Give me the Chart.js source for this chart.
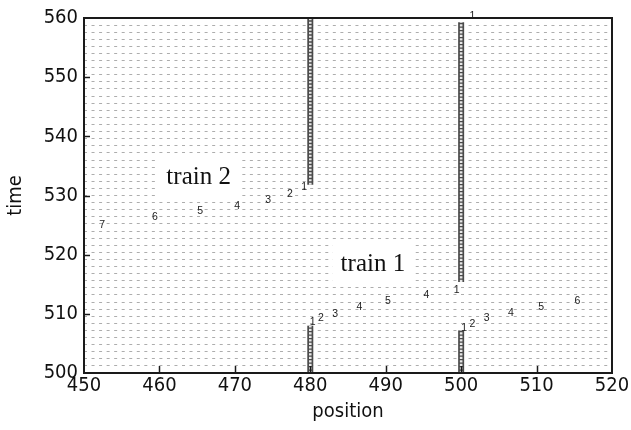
<!DOCTYPE html>
<html>
<head>
<meta charset="utf-8">
<script src="https://cdn.jsdelivr.net/npm/chart.js"></script>
<style>
  html, body { margin: 0; padding: 0; background: #fff; }
  #wrap { width: 631px; height: 430px; }
</style>
</head>
<body>
<div id="wrap"><canvas id="trainChart" width="631" height="430"></canvas></div>
<script>
// axis ticks
const xTicks = [450, 460, 470, 480, 490, 500, 510, 520];
const yTicks = [500, 510, 520, 530, 540, 550, 560];

// trains standing still (position, time from, time to)
const stopX = [480, 480, 500, 500];
const stopFrom = [531.8, 500, 515.4, 500];
const stopTo = [560, 508, 559.3, 507.2];

// numbered marks along the running trains
const train2X = [452.4, 459.4, 465.4, 470.3, 474.4, 477.3, 479.2];
const train2T = [525.0, 526.3, 527.3, 528.2, 529.2, 530.2, 531.5];
const train2Lbl = ['7', '6', '5', '4', '3', '2', '1'];

const train1aX = [480.3, 481.4, 483.3, 486.5, 490.3, 495.4, 499.4];
const train1aT = [508.6, 509.3, 510.0, 511.1, 512.1, 513.2, 514.0];
const train1aLbl = ['1', '2', '3', '4', '5', '4', '1'];

const train1bX = [500.4, 501.5, 503.4, 506.6, 510.6, 515.4];
const train1bT = [507.6, 508.2, 509.3, 510.2, 511.1, 512.2];
const train1bLbl = ['1', '2', '3', '4', '5', '6'];

const topX = [501.5];
const topT = [560.3];
const topLbl = ['1'];

// captions
const captionText = ['train 2', 'train 1'];
const captionX = [465.2, 488.3];
const captionT = [533.0, 518.4];

const TICK_FONT = "'Liberation Sans Narrow', 'DejaVu Sans Condensed', sans-serif";

const pts = (xs, ts) => xs.map((x, i) => ({ x: x, y: ts[i] }));

const stopSets = [];
stopX.forEach((x, i) => {
    const data = [{ x: x, y: stopFrom[i] }, { x: x, y: stopTo[i] }];
    stopSets.push({ type: 'line', data: data, borderColor: '#4a4a4a', borderWidth: 6,
        pointRadius: 0, borderCapStyle: 'butt', order: 2 });
    stopSets.push({ type: 'line', data: data, borderColor: '#e8e8e8', borderWidth: 2.6,
        borderDash: [2.2, 1.3], pointRadius: 0, borderCapStyle: 'butt', order: 1 });
});

const markSet = (xs, ts, lbls) => ({
    type: 'scatter', data: pts(xs, ts), marks: lbls, pointRadius: 0, clip: false
});

const captionSet = {
    type: 'scatter', data: pts(captionX, captionT), captions: captionText, pointRadius: 0
};

const markPlugin = {
    id: 'marks',
    beforeDatasetsDraw(chart) {
        // white boxes behind captions
        const ctx = chart.ctx;
        chart.data.datasets.forEach((ds, i) => {
            if (!ds.captions) return;
            chart.getDatasetMeta(i).data.forEach(p => {
                ctx.save();
                ctx.fillStyle = '#fff';
                ctx.fillRect(p.x - 40, p.y - 21, 80, 43);
                ctx.restore();
            });
        });
    },
    afterDatasetsDraw(chart) {
        const ctx = chart.ctx;
        chart.data.datasets.forEach((ds, i) => {
            const meta = chart.getDatasetMeta(i);
            if (ds.marks) {
                ctx.save();
                ctx.font = "10.5px 'Liberation Sans', sans-serif";
                ctx.fillStyle = '#222';
                ctx.textAlign = 'center';
                ctx.textBaseline = 'middle';
                meta.data.forEach((p, j) => ctx.fillText(ds.marks[j], p.x, p.y));
                ctx.restore();
            }
            if (ds.captions) {
                ctx.save();
                ctx.font = "25px 'Liberation Serif', serif";
                ctx.fillStyle = '#111';
                ctx.textAlign = 'center';
                ctx.textBaseline = 'middle';
                meta.data.forEach((p, j) => ctx.fillText(ds.captions[j], p.x, p.y));
                ctx.restore();
            }
        });
    },
    afterDraw(chart) {
        const { ctx, chartArea: a } = chart;
        const xs = chart.scales.x, ys = chart.scales.y;
        ctx.save();
        ctx.strokeStyle = '#1a1a1a';
        ctx.lineWidth = 1.5;
        xTicks.slice(1, -1).forEach(v => {
            const px = Math.round(xs.getPixelForValue(v)) + 0.5;
            ctx.beginPath(); ctx.moveTo(px, a.bottom); ctx.lineTo(px, a.bottom - 7); ctx.stroke();
        });
        yTicks.slice(1, -1).forEach(v => {
            const py = Math.round(ys.getPixelForValue(v)) + 0.5;
            ctx.beginPath(); ctx.moveTo(a.left, py); ctx.lineTo(a.left + 6, py); ctx.stroke();
        });
        ctx.lineWidth = 2;
        ctx.strokeRect(a.left, a.top, a.right - a.left, a.bottom - a.top);
        ctx.restore();
    }
};

new Chart(document.getElementById('trainChart'), {
    data: {
        datasets: [
            ...stopSets,
            captionSet,
            markSet(train2X, train2T, train2Lbl),
            markSet(train1aX, train1aT, train1aLbl),
            markSet(train1bX, train1bT, train1bLbl),
            markSet(topX, topT, topLbl)
        ]
    },
    options: {
        responsive: false,
        animation: false,
        layout: { padding: { top: 15, right: 19, left: 0, bottom: 0 } },
        plugins: { legend: { display: false }, tooltip: { enabled: false } },
        scales: {
            x: {
                type: 'linear', min: 450, max: 520,
                afterFit: s => { s.height = 57; },
                afterBuildTicks: s => { s.ticks = xTicks.map(v => ({ value: v })); },
                grid: { display: true, drawOnChartArea: false, drawTicks: false },
                border: { display: false },
                ticks: { padding: 1, color: '#111', font: { family: TICK_FONT, size: 20, weight: '500' } },
                title: { display: true, text: 'position', color: '#111',
                    padding: { top: 0, bottom: 6 }, font: { family: TICK_FONT, size: 20 } }
            },
            y: {
                type: 'linear', min: 500, max: 560,
                afterFit: s => { s.width = 84; },
                afterBuildTicks: s => { s.ticks = yTicks.map(v => ({ value: v })); },
                grid: { display: false, drawTicks: false },
                border: { display: false },
                ticks: { padding: 6, color: '#111', font: { family: TICK_FONT, size: 20, weight: '500' } },
                title: { display: true, text: 'time', color: '#111',
                    padding: { top: 4, bottom: 0 }, font: { family: TICK_FONT, size: 20 } }
            },
            // dotted background grid
            yGrid: {
                type: 'linear', min: 500, max: 560, display: true, position: 'right',
                afterFit: s => { s.width = 0; },
                ticks: { display: false, stepSize: 1.2 },
                grid: { color: '#adadad', lineWidth: 1, drawTicks: false },
                border: { display: false, dash: [3, 4.54] }
            }
        }
    },
    plugins: [markPlugin]
});
</script>
</body>
</html>
